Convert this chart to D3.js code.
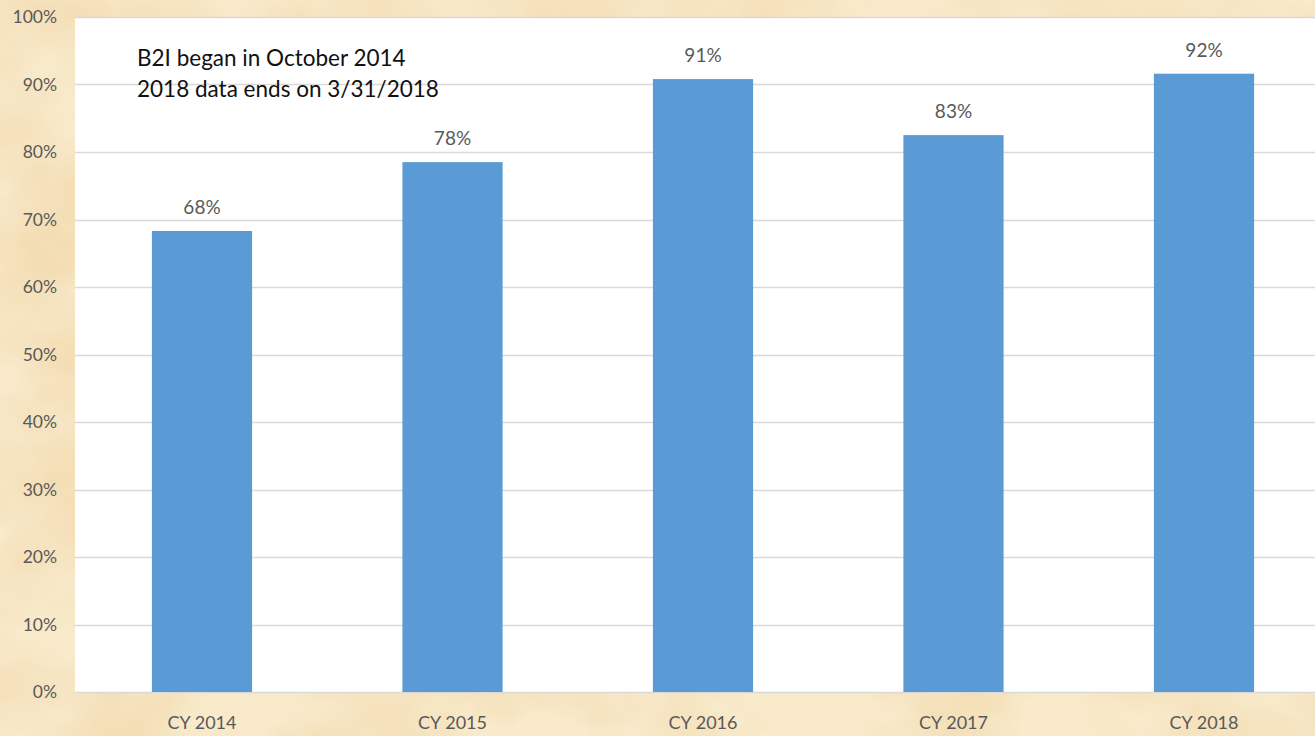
<!DOCTYPE html>
<html>
<head>
<meta charset="utf-8">
<script src="https://cdn.jsdelivr.net/npm/d3@7/dist/d3.min.js"></script>
<style>
  html, body { margin: 0; padding: 0; background: #F6E4C0; }
  svg { display: block; }
  text { font-family: Lato, "Open Sans", sans-serif; }
</style>
</head>
<body>
<svg id="chart" width="1315" height="736"></svg>
<script>
// ---- data ----
const categories = ["CY 2014", "CY 2015", "CY 2016", "CY 2017", "CY 2018"];
const values = [0.683, 0.785, 0.908, 0.825, 0.916];
const valueLabels = ["68%", "78%", "91%", "83%", "92%"];
const yTicks = [0, 0.1, 0.2, 0.3, 0.4, 0.5, 0.6, 0.7, 0.8, 0.9, 1.0];
const notes = ["B2I began in October 2014", "2018 data ends on 3/31/2018"];

// ---- layout ----
const W = 1315, H = 736;
const plot = { left: 75, top: 17, bottom: 692 };

const svg = d3.select("#chart");

// parchment background
const defs = svg.append("defs");
const f = defs.append("filter").attr("id", "parch")
  .attr("x", 0).attr("y", 0).attr("width", "100%").attr("height", "100%");
f.append("feTurbulence").attr("type", "fractalNoise")
  .attr("baseFrequency", "0.006 0.009").attr("numOctaves", 4).attr("seed", 7).attr("result", "n");
f.append("feColorMatrix").attr("in", "n").attr("type", "matrix")
  .attr("values", "0 0 0 0 0.88  0 0 0 0 0.68  0 0 0 0 0.40  1.8 0 0 0 -0.66");
svg.append("rect").attr("width", W).attr("height", H).attr("fill", "#F8EACB");
svg.append("rect").attr("width", W).attr("height", H).attr("filter", "url(#parch)");

const x = d3.scaleBand().domain(categories)
  .range([76.75, 1329.25]).paddingInner(0.6).paddingOuter(0.3);
const y = d3.scaleLinear().domain([0, 1]).range([plot.bottom, plot.top]);

// white plot area
svg.append("rect")
  .attr("x", plot.left).attr("y", plot.top)
  .attr("width", W - plot.left).attr("height", plot.bottom - plot.top)
  .attr("fill", "#FFFFFF");

// gridlines
svg.append("g").selectAll("line").data(yTicks).join("line")
  .attr("x1", plot.left).attr("x2", W)
  .attr("y1", d => Math.round(y(d)) + 0.5).attr("y2", d => Math.round(y(d)) + 0.5)
  .attr("stroke", "#D9D9D9").attr("stroke-width", 1.3);

// y axis
const yAxis = svg.append("g").attr("transform", `translate(${plot.left},0)`)
  .call(d3.axisLeft(y).tickValues(yTicks).tickFormat(d3.format(".0%")).tickSize(0).tickPadding(18));
yAxis.select(".domain").remove();
yAxis.selectAll("text").attr("fill", "#595959").attr("font-size", 17.5)
  .attr("font-family", "Lato, 'Open Sans', sans-serif");

// bars
svg.append("g").selectAll("rect").data(values).join("rect")
  .attr("x", (d, i) => x(categories[i]))
  .attr("width", x.bandwidth())
  .attr("y", d => y(d))
  .attr("height", d => y(0) - y(d))
  .attr("fill", "#5B9BD5");

// value labels
svg.append("g").selectAll("text").data(values).join("text")
  .attr("x", (d, i) => x(categories[i]) + x.bandwidth() / 2)
  .attr("y", d => y(d) - 17)
  .attr("text-anchor", "middle")
  .attr("fill", "#595959").attr("font-size", 19)
  .text((d, i) => valueLabels[i]);

// x axis
const xAxis = svg.append("g").attr("transform", `translate(0,${plot.bottom})`)
  .call(d3.axisBottom(x).tickSize(0).tickPadding(24));
xAxis.select(".domain").remove();
xAxis.selectAll("text").attr("fill", "#595959").attr("font-size", 18)
  .attr("font-family", "Lato, 'Open Sans', sans-serif");

// annotation
svg.append("g").selectAll("text").data(notes).join("text")
  .attr("x", 137).attr("y", (d, i) => 66 + i * 31)
  .attr("fill", "#111").attr("font-size", 22.5)
  .text(d => d);
</script>
</body>
</html>
